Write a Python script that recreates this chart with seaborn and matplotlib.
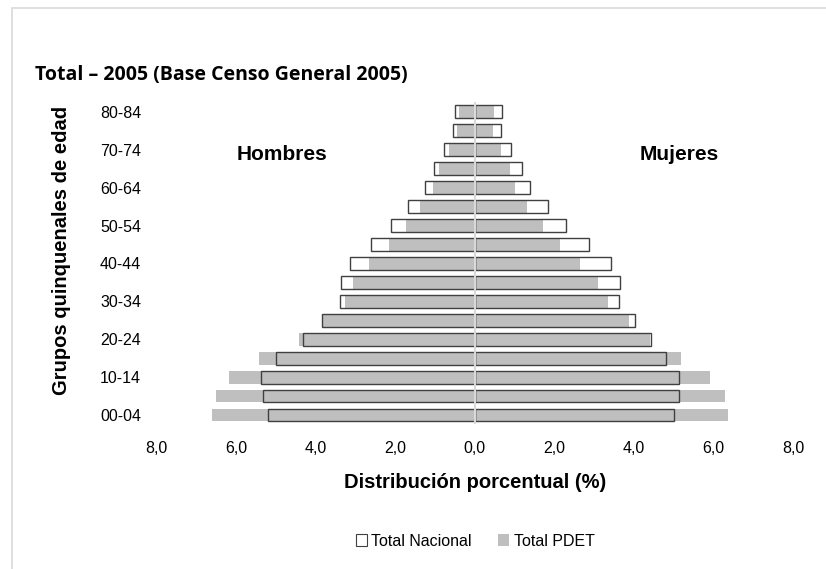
import matplotlib
matplotlib.use("Agg")
import matplotlib.pyplot as plt
import seaborn as sns
import pandas as pd
from matplotlib.patches import Patch, Rectangle
from matplotlib.ticker import FuncFormatter

# =========================
# DATA (percent of total population)
# =========================
edades = ["00-04", "05-09", "10-14", "15-19", "20-24", "25-29", "30-34", "35-39",
          "40-44", "45-49", "50-54", "55-59", "60-64", "65-69", "70-74", "75-79", "80-84"]

nacional_hombres = [5.19, 5.33, 5.38, 4.99, 4.31, 3.85, 3.40, 3.37,
                    3.14, 2.62, 2.11, 1.67, 1.26, 1.02, 0.77, 0.54, 0.49]
nacional_mujeres = [5.00, 5.14, 5.14, 4.81, 4.43, 4.03, 3.63, 3.66,
                    3.42, 2.87, 2.30, 1.83, 1.40, 1.19, 0.92, 0.67, 0.69]
pdet_hombres = [6.61, 6.51, 6.18, 5.42, 4.41, 3.84, 3.27, 3.05,
                2.66, 2.16, 1.74, 1.38, 1.06, 0.89, 0.65, 0.44, 0.39]
pdet_mujeres = [6.37, 6.30, 5.91, 5.18, 4.40, 3.89, 3.34, 3.11,
                2.65, 2.15, 1.71, 1.32, 1.00, 0.88, 0.66, 0.46, 0.49]

titulo = "Total \u2013 2005 (Base Censo General 2005)"

df = pd.DataFrame({
    "edad": edades,
    "nac_h": [-v for v in nacional_hombres],
    "nac_m": nacional_mujeres,
    "pdet_h": [-v for v in pdet_hombres],
    "pdet_m": pdet_mujeres,
})
orden = edades[::-1]  # 80-84 on top

sns.set_style("white")
plt.rcParams["font.family"] = ["Liberation Sans", "DejaVu Sans"]
plt.rcParams["text.color"] = "black"
plt.rcParams["axes.labelcolor"] = "black"
plt.rcParams["xtick.color"] = "black"
plt.rcParams["ytick.color"] = "black"

fig = plt.figure(figsize=(8.26, 5.69), dpi=100)
ax = fig.add_axes([0.1895, 0.254, 0.7705, 0.566])

GRIS = "#BFBFBF"
BORDE = "#404040"
ANCHO = 0.68


def barras(col, face, edge, lw, z):
    n0 = len(ax.patches)
    sns.barplot(data=df, x=col, y="edad", order=orden, orient="h",
                width=ANCHO, ax=ax, errorbar=None, color=GRIS)
    for p in ax.patches[n0:]:
        p.set_facecolor(face)
        p.set_edgecolor(edge)
        p.set_linewidth(lw)
        p.set_zorder(z)


# white nacional fill, grey PDET on top, then nacional outline on top of all
for c in ["nac_h", "nac_m"]:
    barras(c, "white", "none", 0, 1)
for c in ["pdet_h", "pdet_m"]:
    barras(c, GRIS, "none", 0, 2)
for c in ["nac_h", "nac_m"]:
    barras(c, "none", BORDE, 1.0, 3)

ax.axvline(0, color="#D9D9D9", lw=1.5, zorder=4)

ax.set_xlim(-8, 8)
ax.set_ylim(16.5, -0.5)
ax.set_xticks([-8, -6, -4, -2, 0, 2, 4, 6, 8])
ax.xaxis.set_major_formatter(FuncFormatter(lambda v, p: f"{abs(v):.1f}".replace(".", ",")))
ax.set_yticks(range(0, 17, 2))
ax.set_yticklabels(orden[::2])
ax.tick_params(axis="x", labelsize=11.5, length=0, pad=12)
ax.tick_params(axis="y", labelsize=11.5, length=0, pad=11)
for s in ax.spines.values():
    s.set_visible(False)

ax.set_xlabel("Distribuci\u00f3n porcentual (%)", fontsize=14.5, fontweight="bold", labelpad=12)
ax.set_ylabel("Grupos quinquenales de edad", fontsize=14.5, fontweight="bold")
ax.yaxis.set_label_coords(-0.135, 0.54)

ax.text(-4.85, 2.25, "Hombres", fontsize=15, fontweight="bold", ha="center", va="center")
ax.text(5.15, 2.25, "Mujeres", fontsize=15, fontweight="bold", ha="center", va="center")

fig.text(35 / 826, 1 - 75 / 569, titulo, fontsize=14, fontweight="bold",
         family=["Open Sans", "DejaVu Sans"], ha="left", va="center")

handles = [Patch(facecolor="white", edgecolor=BORDE, lw=0.8, label="Total Nacional"),
           Patch(facecolor=GRIS, edgecolor="none", label="Total PDET")]
fig.legend(handles=handles, loc="center", bbox_to_anchor=(0.575, 1 - 541 / 569),
           ncol=2, frameon=False, fontsize=11.5, handlelength=0.7, handleheight=0.7,
           handletextpad=0.3, columnspacing=1.6)

# chart area border
fig.patches.append(Rectangle((12 / 826, -0.05), 1.0, 1 - 8 / 569 + 0.05,
                             transform=fig.transFigure, fill=False,
                             edgecolor="#D9D9D9", lw=1.2))

fig.savefig("out.png", dpi=100)
